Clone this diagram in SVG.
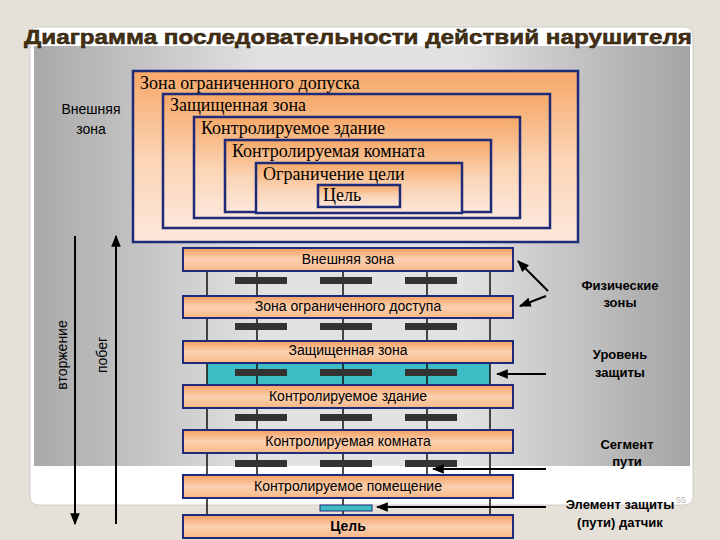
<svg xmlns="http://www.w3.org/2000/svg" width="720" height="540" viewBox="0 0 720 540">
<defs>
<linearGradient id="bg" x1="0" y1="0" x2="1" y2="0"><stop offset="0" stop-color="#a9a9a9"/><stop offset="0.35" stop-color="#e2e2e2"/><stop offset="0.65" stop-color="#e2e2e2"/><stop offset="1" stop-color="#a4a4a4"/></linearGradient>
<linearGradient id="og" x1="0" y1="0" x2="0" y2="1"><stop offset="0" stop-color="#f6a868"/><stop offset="0.5" stop-color="#fbd4b4"/><stop offset="1" stop-color="#fde8dc"/></linearGradient>
<linearGradient id="bar" x1="0" y1="0" x2="0" y2="1"><stop offset="0" stop-color="#f5a060"/><stop offset="0.5" stop-color="#fbd0b0"/><stop offset="1" stop-color="#f8b886"/></linearGradient>
<marker id="ah" viewBox="0 0 10 10" refX="9" refY="5" markerWidth="6" markerHeight="6" orient="auto"><path d="M0,1 L10,5 L0,9 z" fill="#000"/></marker>
<style>
.nb{fill:url(#og);stroke:#1f2a78;stroke-width:2.5}
.nt{font-family:'Liberation Serif','DejaVu Serif',serif;font-size:18px;fill:#000}
.b{fill:url(#bar);stroke:#1f2a78;stroke-width:2}
.bt{font-family:'Liberation Sans',sans-serif;font-size:14px;fill:#000;text-anchor:middle}
.seg{fill:#333}
.v{stroke:#111;stroke-width:1.5}
.lab{font-family:'Liberation Sans',sans-serif;font-size:13px;font-weight:bold;fill:#000;text-anchor:middle}
.c{stroke:#000;stroke-width:2;fill:none;marker-end:url(#ah)}
</style>
</defs>
<rect width="720" height="540" fill="#e6e1d8"/>
<rect x="30" y="27" width="663" height="478" rx="8" fill="#fff" stroke="#ccc"/>
<rect x="34" y="46" width="656" height="420" fill="url(#bg)"/>
<text x="24" y="44" textLength="668" lengthAdjust="spacingAndGlyphs" font-family="Liberation Sans,sans-serif" font-size="21" font-weight="bold" fill="#4a300c" stroke="#1a1a1a" stroke-width="0.5">Диаграмма последовательности  действий нарушителя</text>
<g id="outer-label"><text x="91" y="114" class="bt">Внешняя</text><text x="91" y="134" class="bt">зона</text></g>
<g id="nested">
<rect class="nb" x="133" y="71" width="445" height="171"/>
<text class="nt" x="140" y="89">Зона ограниченного допуска</text>
<rect class="nb" x="163" y="94" width="387" height="134"/>
<text class="nt" x="170" y="111">Защищенная зона</text>
<rect class="nb" x="194" y="117" width="326" height="101"/>
<text class="nt" x="201" y="134">Контролируемое здание</text>
<rect class="nb" x="225" y="140" width="266" height="72"/>
<text class="nt" x="232" y="157">Контролируемая комната</text>
<rect class="nb" x="256" y="163" width="206" height="50"/>
<text class="nt" x="263" y="180">Ограничение цели</text>
<rect class="nb" x="318" y="185" width="82" height="22"/>
<text class="nt" x="323" y="201">Цель</text>
</g>
<rect x="207" y="363" width="283" height="22" fill="#3cbcc4"/>
<g id="verticals">
<line class="v" x1="207" y1="271" x2="207" y2="515"/>
<line class="v" x1="257" y1="271" x2="257" y2="475"/>
<line class="v" x1="343" y1="271" x2="343" y2="515"/>
<line class="v" x1="427" y1="271" x2="427" y2="475"/>
<line class="v" x1="490" y1="271" x2="490" y2="515"/>
</g>
<g id="segments">
<rect class="seg" x="235" y="277" width="52" height="7"/><rect class="seg" x="320" y="277" width="52" height="7"/><rect class="seg" x="405" y="277" width="52" height="7"/>
<rect class="seg" x="235" y="323" width="52" height="7"/><rect class="seg" x="320" y="323" width="52" height="7"/><rect class="seg" x="405" y="323" width="52" height="7"/>
<rect class="seg" x="235" y="369" width="52" height="7"/><rect class="seg" x="320" y="369" width="52" height="7"/><rect class="seg" x="405" y="369" width="52" height="7"/>
<rect class="seg" x="235" y="414" width="52" height="7"/><rect class="seg" x="320" y="414" width="52" height="7"/><rect class="seg" x="405" y="414" width="52" height="7"/>
<rect class="seg" x="235" y="460" width="52" height="7"/><rect class="seg" x="320" y="460" width="52" height="7"/><rect class="seg" x="405" y="460" width="52" height="7"/>
<rect x="320" y="505" width="52" height="6" fill="#3cbcc4" stroke="#1f2a78"/>
</g>
<g id="bars">
<rect class="b" x="183" y="248" width="330" height="23"/><text class="bt" x="348" y="264">Внешняя зона</text>
<rect class="b" x="183" y="296" width="330" height="22"/><text class="bt" x="348" y="311">Зона ограниченного доступа</text>
<rect class="b" x="183" y="341" width="330" height="22"/><text class="bt" x="348" y="355">Защищенная зона</text>
<rect class="b" x="183" y="385" width="330" height="23"/><text class="bt" x="348" y="401">Контролируемое здание</text>
<rect class="b" x="183" y="430" width="330" height="23"/><text class="bt" x="348" y="446">Контролируемая комната</text>
<rect class="b" x="183" y="475" width="330" height="23"/><text class="bt" x="348" y="491">Контролируемое помещение</text>
<rect class="b" x="183" y="515" width="330" height="23"/><text class="bt" x="348" y="531" font-weight="bold">Цель</text>
</g>
<g id="labels">
<text class="lab" x="620" y="290">Физические</text><text class="lab" x="620" y="307">зоны</text>
<text class="lab" x="620" y="359">Уровень</text><text class="lab" x="620" y="377">защиты</text>
<text class="lab" x="627" y="449">Сегмент</text><text class="lab" x="627" y="466">пути</text>
<text class="lab" x="620" y="509">Элемент защиты</text><text class="lab" x="620" y="527">(пути) датчик</text>
<text x="676" y="503" font-family="Liberation Sans,sans-serif" font-size="9" fill="#bbb">55</text>
<text transform="translate(67,355) rotate(-90)" class="bt" font-size="13">вторжение</text>
<text transform="translate(107,355) rotate(-90)" class="bt" font-size="13">побег</text>
</g>
<g id="connectors">
<line class="c" x1="548" y1="291" x2="518" y2="261"/>
<line class="c" x1="546" y1="296" x2="520" y2="306"/>
<line class="c" x1="546" y1="374" x2="497" y2="374"/>
<line class="c" x1="546" y1="469" x2="433" y2="469"/>
<line class="c" x1="546" y1="507" x2="377" y2="507"/>
<line class="c" x1="75" y1="236" x2="75" y2="524"/>
<line class="c" x1="116" y1="524" x2="116" y2="236"/>
</g>
</svg>
